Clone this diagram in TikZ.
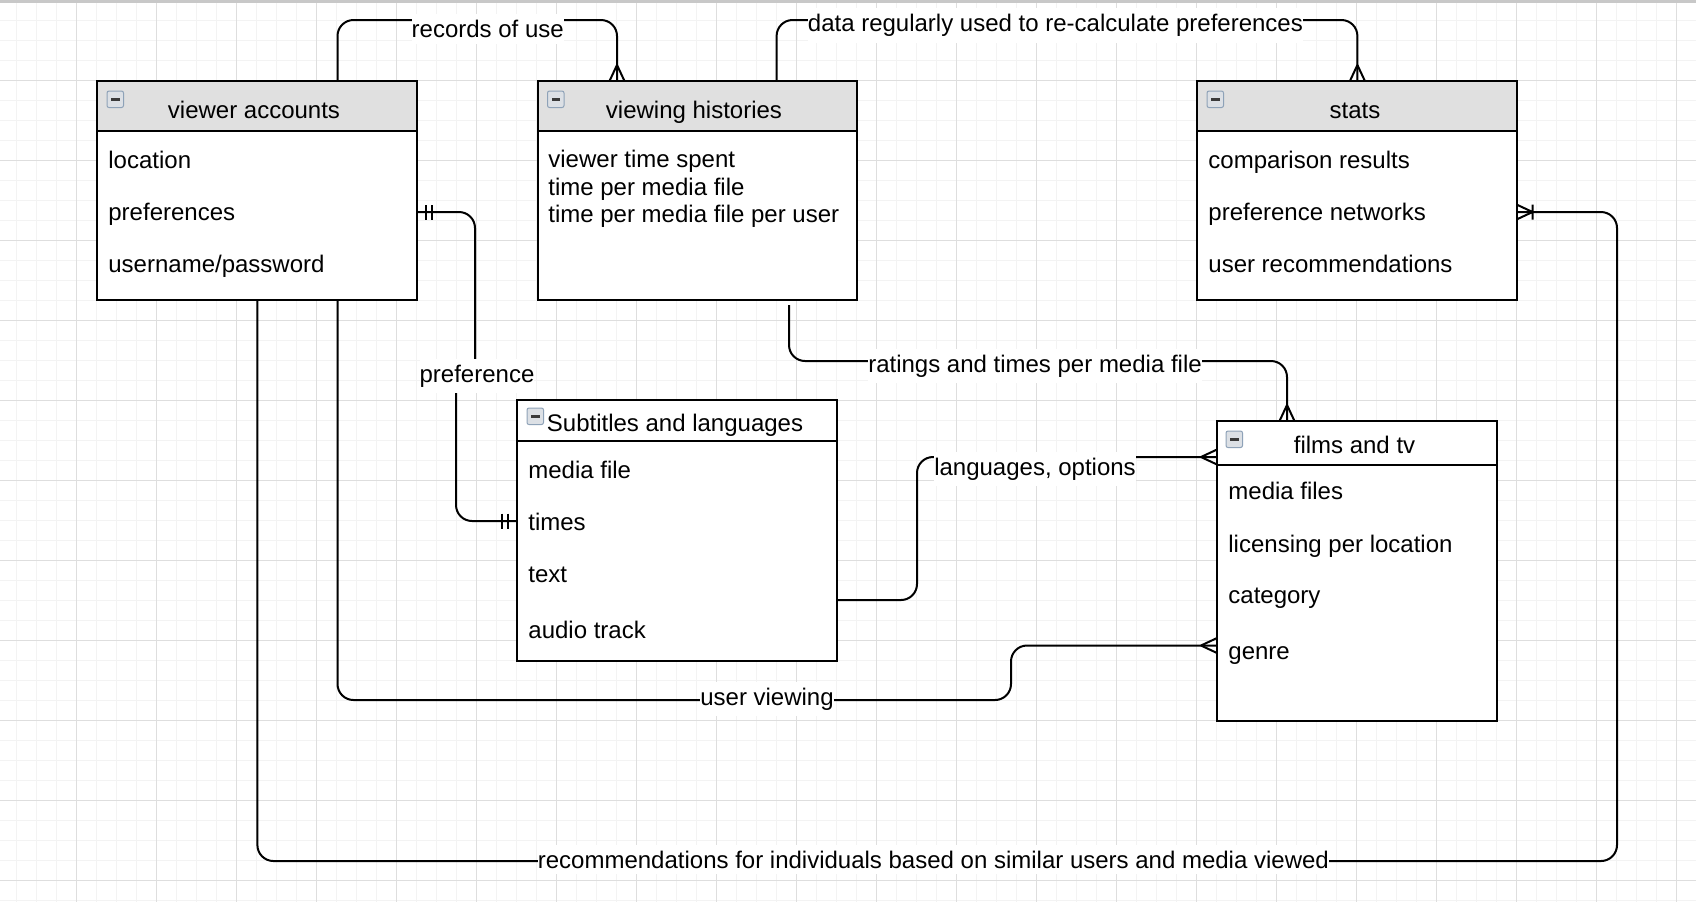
\documentclass[tikz,border=0pt]{standalone}
\usepackage{fontspec}
\setmainfont{Liberation Sans}
\definecolor{hdrgray}{HTML}{E0E0E0}
\definecolor{gridminor}{HTML}{F3F3F3}
\definecolor{gridmajor}{HTML}{DEDEDE}
\definecolor{topbar}{HTML}{C8C8C8}
\definecolor{iconborder}{HTML}{8EA2B8}
\definecolor{iconfill}{HTML}{DCE0E5}
\definecolor{iconbar}{HTML}{3A3A3A}
\begin{document}
\begin{tikzpicture}[x=0.5pt,y=-0.5pt,
  hbox/.style={draw=black, line width=1pt, fill=hdrgray, inner sep=0pt, outer sep=0pt, anchor=north west},
  wbox/.style={draw=black, line width=1pt, fill=white, inner sep=0pt, outer sep=0pt, anchor=north west},
  ttl/.style={inner sep=0pt, anchor=base, font=\fontsize{12}{14}\selectfont},
  row/.style={inner sep=0pt, anchor=base west, font=\fontsize{12}{14}\selectfont},
  lbl/.style={fill=white, inner xsep=0pt, inner ysep=3pt, anchor=base, font=\fontsize{12}{14}\selectfont},
  conn/.style={draw=black, line width=1pt, rounded corners=8pt},
  crow/.pic={\draw[line width=1pt] (-16,0) -- (0,7.5) (-16,0) -- (0,-7.5);},
  onemany/.pic={\draw[line width=1pt] (-16,0) -- (0,7.5) (-16,0) -- (0,-7.5) (-16,-7.5) -- (-16,7.5);},
  bars/.pic={\draw[line width=1pt] (-9,-7.5) -- (-9,7.5) (-15,-7.5) -- (-15,7.5);},
  icon/.pic={\draw[iconborder, fill=iconfill, line width=0.5pt, rounded corners=1pt] (0,0) rectangle (16.5,16.5);
             \fill[iconbar] (4,7) rectangle (12.5,9.8);}
]
% background and grid
\useasboundingbox (0,0) rectangle (1696,902);
\fill[white] (0,0) rectangle (1696,902);
\foreach \x in {16.7,36.7,...,1696} \draw[gridminor, line width=0.5pt] (\x,0) -- (\x,902);
\foreach \y in {20,40,...,900} \draw[gridminor, line width=0.5pt] (0,\y) -- (1696,\y);
\foreach \x in {76.7,156.7,...,1696} \draw[gridmajor, line width=0.5pt] (\x,0) -- (\x,902);
\foreach \y in {80,160,...,900} \draw[gridmajor, line width=0.5pt] (0,\y) -- (1696,\y);
\fill[topbar] (0,0) rectangle (1696,2.5);

% viewer accounts
\node[hbox, minimum width=160pt, minimum height=25pt] (vah) at (97,81) {};
\node[wbox, minimum width=160pt, minimum height=84.5pt] (va) at (97,131) {};
\pic at (107,91) {icon};
\node[ttl] (vat) at (254,118) {viewer accounts};
\node[row] (va1) at (108,168.3) {location};
\node[row] (va2) at (108,220) {preferences};
\node[row] (va3) at (108,272) {username/password};

% viewing histories
\node[hbox, minimum width=159.75pt, minimum height=25pt] (vhh) at (537.5,81) {};
\node[wbox, minimum width=159.75pt, minimum height=84.5pt] (vh) at (537.5,131) {};
\pic at (547.5,91) {icon};
\node[ttl] (vht) at (694,118) {viewing histories};
\node[row] (vh1) at (548,167.5) {viewer time spent};
\node[row] (vh2) at (548,195) {time per media file};
\node[row] (vh3) at (548,222.5) {time per media file per user};

% stats
\node[hbox, minimum width=159.75pt, minimum height=25pt] (sth) at (1197,81) {};
\node[wbox, minimum width=159.75pt, minimum height=84.5pt] (st) at (1197,131) {};
\pic at (1207,91) {icon};
\node[ttl] (stt) at (1355,118) {stats};
\node[row] (st1) at (1208,168) {comparison results};
\node[row] (st2) at (1208,220) {preference networks};
\node[row] (st3) at (1208,272) {user recommendations};

% Subtitles and languages
\node[wbox, minimum width=159.75pt, minimum height=20.5pt] (subh) at (517,400) {};
\node[wbox, minimum width=159.75pt, minimum height=109.75pt] (sub) at (517,441) {};
\pic at (527,408) {icon};
\node[row] (subt) at (546.5,431) {Subtitles and languages};
\node[row] (sub1) at (528,478.5) {media file};
\node[row] (sub2) at (528,530) {times};
\node[row] (sub3) at (528,582) {text};
\node[row] (sub4) at (528,638) {audio track};

% films and tv
\node[wbox, minimum width=140pt, minimum height=22pt] (fth) at (1217,421) {};
\node[wbox, minimum width=140pt, minimum height=128pt] (ft) at (1217,465) {};
\pic at (1226,431) {icon};
\node[ttl] (ftt) at (1354.5,453.3) {films and tv};
\node[row] (ft1) at (1228,499.5) {media files};
\node[row] (ft2) at (1228,552) {licensing per location};
\node[row] (ft3) at (1228,603.5) {category};
\node[row] (ft4) at (1228,659.5) {genre};

% connectors
% records of use
\draw[conn] (337.5,0 |- vah.north) -- (337.5,20) -- (617,20) -- (617,0 |- vhh.north);
\pic[rotate=-90] at (617,0 |- vhh.north) {crow};
\node[lbl] (l1) at (487.7,37.5) {records of use};

% data regularly used
\draw[conn] (776.6,0 |- vhh.north) -- (776.6,20) -- (1357.4,20) -- (1357.4,0 |- sth.north);
\pic[rotate=-90] at (1357.4,0 |- sth.north) {crow};
\node[lbl] (l2) at (1055.4,31.7) {data regularly used to re-calculate preferences};

% preference
\draw[conn] (va.east |- 0,212) -- (475,212) -- (475,376) -- (456,376) -- (456,521) -- (sub.west |- 0,521);
\pic[rotate=180] at (va.east |- 0,212) {bars};
\pic at (sub.west |- 0,521) {bars};
\node[lbl] (l3) at (477,382.5) {preference};

% ratings and times per media file
\coordinate (rstart) at (789,305);
\draw[conn] (rstart) -- (789,361) -- (1287,361) -- (1287,0 |- fth.north);
\pic[rotate=-90] at (1287,0 |- fth.north) {crow};
\node[lbl] (l4) at (1035,372) {ratings and times per media file};

% languages, options
\draw[conn] (sub.east |- 0,600) -- (917,600) -- (917,457) -- (fth.west |- 0,457);
\pic at (fth.west |- 0,457) {crow};
\node[lbl] (l5) at (1035,475.5) {languages, options};

% user viewing
\draw[conn] (337.5,0 |- va.south) -- (337.5,700) -- (1011,700) -- (1011,645.5) -- (ft.west |- 0,645.5);
\pic at (ft.west |- 0,645.5) {crow};
\node[lbl] (l6) at (767,705) {user viewing};

% recommendations
\draw[conn] (257.4,0 |- va.south) -- (257.4,861) -- (1617,861) -- (1617,212) -- (st.east |- 0,212);
\pic[rotate=180] at (st.east |- 0,212) {onemany};
\node[lbl] (l7) at (933.4,868) {recommendations for individuals based on similar users and media viewed};
\end{tikzpicture}
\end{document}
